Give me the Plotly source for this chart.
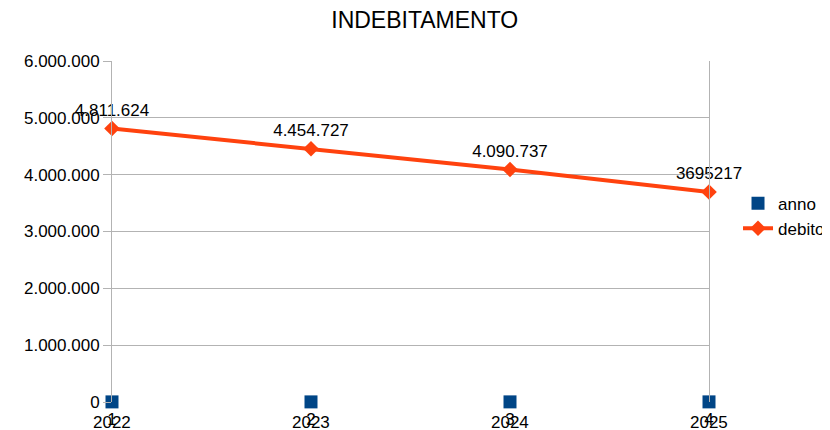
import plotly.graph_objects as go

categories = [1, 2, 3, 4]
anno = [2022, 2023, 2024, 2025]
debito = [4811624, 4454727, 4090737, 3695217]
debito_labels = ["4.811.624", "4.454.727", "4.090.737", "3695217"]
y_ticks = [0, 1000000, 2000000, 3000000, 4000000, 5000000, 6000000]
y_ticklabels = ["0", "1.000.000", "2.000.000", "3.000.000", "4.000.000", "5.000.000", "6.000.000"]

FONT = "Liberation Sans, Arial, sans-serif"
BLUE = "#004586"
ORANGE = "#ff420e"

fig = go.Figure()
fig.add_trace(go.Scatter(
    x=categories, y=anno, name="anno", mode="markers",
    marker=dict(symbol="square", size=13, color=BLUE),
    cliponaxis=False,
))
fig.add_trace(go.Scatter(
    x=categories, y=debito, name="debito", mode="lines+markers+text",
    line=dict(color=ORANGE, width=4),
    marker=dict(symbol="diamond", size=12, color=ORANGE),
    text=debito_labels, textposition="top center",
    textfont=dict(family=FONT, size=17, color="#000000"),
    cliponaxis=False,
))

for c, a in zip(categories, anno):
    fig.add_annotation(x=c, y=a, xref="x", yref="y", text=str(a), showarrow=False,
                       xanchor="center", yanchor="middle", yshift=-21,
                       font=dict(family=FONT, size=17, color="#000000"))

fig.update_layout(
    width=822, height=422,
    margin=dict(l=104, r=121, t=53, b=28, autoexpand=False),
    paper_bgcolor="white", plot_bgcolor="white",
    font=dict(family=FONT, size=17, color="#000000"),
    title=dict(text="INDEBITAMENTO", x=0.507, xanchor="center", y=0.972, yanchor="middle",
               font=dict(family=FONT, size=23, color="#000000")),
    showlegend=True,
    legend=dict(x=1.0486, xanchor="left", y=0.545, yanchor="middle",
                font=dict(family=FONT, size=17, color="#000000"),
                bgcolor="rgba(0,0,0,0)", itemwidth=30, tracegroupgap=0),
    xaxis=dict(range=[1, 4], tickvals=categories, ticktext=[str(c) for c in categories],
               showgrid=False, zeroline=False, showline=False,
               ticks="", ticklabelstandoff=5,
               tickfont=dict(family=FONT, size=17, color="#000000")),
    yaxis=dict(range=[0, 6000000], tickvals=y_ticks, ticktext=y_ticklabels,
               showgrid=True, gridcolor="#b3b3b3", gridwidth=1,
               zeroline=False, showline=True, linecolor="#b3b3b3", linewidth=1, mirror=True,
               ticks="outside", ticklen=8, tickcolor="#b3b3b3",
               tickfont=dict(family=FONT, size=17, color="#000000")),
)

fig.write_html("out.html")
